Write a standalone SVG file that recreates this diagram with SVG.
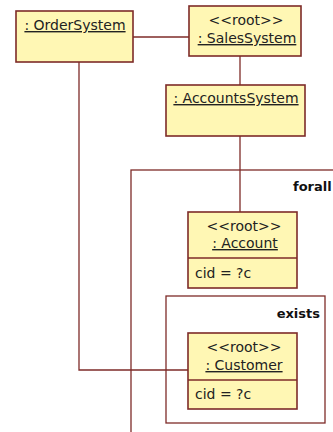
<svg xmlns="http://www.w3.org/2000/svg" width="333" height="432" viewBox="0 0 333 432">
<style>
.box{fill:#FFF7B4;stroke:#7E2B28;stroke-width:1.6}
.frame{fill:none;stroke:#7E2B28;stroke-width:1.3}
.ln{fill:none;stroke:#7E2B28;stroke-width:1.3}
.t{font-family:"DejaVu Sans",sans-serif;font-size:14px;fill:#222}
.c{text-anchor:middle}
.u{text-decoration:underline}
.kw{font-family:"DejaVu Sans",sans-serif;font-size:13px;font-weight:bold;fill:#111}
</style>
<rect width="333" height="432" fill="#fff"/>
<g id="frame-forall">
<rect class="frame" x="131" y="170" width="220" height="280"/>
<text class="kw" x="293" y="191">forall</text>
</g>
<g id="frame-exists">
<rect class="frame" x="166" y="296" width="159" height="127"/>
<text class="kw" x="320" y="318" text-anchor="end">exists</text>
</g>
<g id="connectors">
<line class="ln" x1="133" y1="37" x2="189" y2="37"/>
<line class="ln" x1="240" y1="56" x2="240" y2="85"/>
<line class="ln" x1="240" y1="136" x2="240" y2="212"/>
<polyline class="ln" points="79,62 79,370 188,370"/>
</g>
<g id="OrderSystem">
<rect class="box" x="16" y="11" width="117" height="51"/>
<text class="t c u" x="75" y="30">: OrderSystem</text>
</g>
<g id="SalesSystem">
<rect class="box" x="189" y="6" width="112" height="50"/>
<text class="t c" x="246" y="25">&lt;&lt;root&gt;&gt;</text>
<text class="t c u" x="247" y="43">: SalesSystem</text>
</g>
<g id="AccountsSystem">
<rect class="box" x="166" y="85" width="139" height="51"/>
<text class="t c u" x="236" y="103">: AccountsSystem</text>
</g>
<g id="Account">
<rect class="box" x="188" y="212" width="109" height="76"/>
<line class="ln" x1="188" y1="258" x2="297" y2="258"/>
<text class="t c" x="244" y="231">&lt;&lt;root&gt;&gt;</text>
<text class="t c u" x="245" y="248">: Account</text>
<text class="t" x="195" y="278">cid = ?c</text>
</g>
<g id="Customer">
<rect class="box" x="188" y="333" width="109" height="76"/>
<line class="ln" x1="188" y1="380" x2="297" y2="380"/>
<text class="t c" x="244" y="352">&lt;&lt;root&gt;&gt;</text>
<text class="t c u" x="244" y="370">: Customer</text>
<text class="t" x="195" y="399">cid = ?c</text>
</g>
</svg>
